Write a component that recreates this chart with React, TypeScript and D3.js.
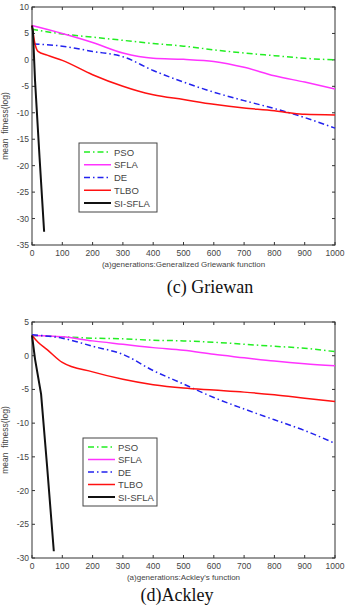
import React, { useRef, useEffect } from 'react';
import * as d3 from 'd3';

const gens = [0, 100, 200, 300, 400, 500, 600, 700, 800, 900, 1000];

// (c) Griewank
const griewPSO = [5.8, 4.9, 4.3, 3.7, 3.1, 2.6, 1.9, 1.3, 0.8, 0.3, 0];
const griewSFLA = [6.5, 5.0, 3.3, 1.3, 0.3, 0.1, -0.3, -1.4, -3.0, -4.2, -5.5];
const griewDEgens = [5, 100, 200, 300, 400, 500, 600, 700, 800, 900, 1000];
const griewDE = [3.0, 2.6, 1.6, 0.6, -2.0, -4.2, -6.1, -7.7, -9.2, -10.9, -12.9];
const griewTLBOgens = [0, 10, 20, 50, 100, 200, 300, 350, 400, 500, 600, 700, 800, 850, 900, 1000];
const griewTLBO = [6.5, 3.0, 1.6, 0.9, -0.1, -2.8, -5.0, -5.9, -6.6, -7.5, -8.4, -9.1, -9.6, -10.0, -10.3, -10.4];
const griewSIgens = [0, 3, 10, 25, 40];
const griewSI = [6.5, 5.5, -3.9, -18.5, -32.5];

// (d) Ackley
const ackPSO = [3.0, 2.8, 2.6, 2.5, 2.3, 2.2, 2.0, 1.7, 1.4, 1.1, 0.6];
const ackSFLA = [3.0, 2.8, 2.2, 1.7, 1.2, 0.8, 0.2, -0.3, -0.8, -1.2, -1.5];
const ackDE = [3.1, 2.6, 1.4, 0.2, -2.2, -4.2, -6.2, -7.9, -9.5, -11.1, -13.0];
const ackTLBOgens = [0, 20, 50, 100, 200, 300, 400, 500, 600, 700, 800, 900, 1000];
const ackTLBO = [3.0, 2.0, 0.9, -1.0, -2.4, -3.5, -4.3, -4.8, -5.1, -5.4, -5.8, -6.3, -6.8];
const ackSIgens = [0, 10, 30, 50, 72];
const ackSI = [3.0, -0.5, -5.7, -16.5, -29.0];

const seriesNames = ['PSO', 'SFLA', 'DE', 'TLBO', 'SI-SFLA'];
const seriesColors = ['#22ee22', '#ff33ff', '#2222ee', '#ff1111', '#111111'];
const seriesDash = ['6,3,1.5,3', null, '6,3,1.5,3', null, null];
const seriesWidth = [1.5, 1.5, 1.5, 1.5, 2];

const griewTicks = [10, 5, 0, -5, -10, -15, -20, -25, -30, -35];
const ackTicks = [5, 0, -5, -10, -15, -20, -25, -30];
const xTicks = [0, 100, 200, 300, 400, 500, 600, 700, 800, 900, 1000];

type Panel = {
  top: number; bottom: number; yDomain: [number, number]; yTicks: number[];
  series: { x: number[]; y: number[] }[];
  xLabel: string; caption: string; captionX: number; captionY: number;
  legend: { x: number; y: number; w: number; h: number };
};

const panels: Panel[] = [
  {
    top: 7, bottom: 245, yDomain: [-35, 10], yTicks: griewTicks,
    series: [
      { x: gens, y: griewPSO }, { x: gens, y: griewSFLA }, { x: griewDEgens, y: griewDE },
      { x: griewTLBOgens, y: griewTLBO }, { x: griewSIgens, y: griewSI },
    ],
    xLabel: '(a)generations:Generalized Griewank function',
    caption: '(c) Griewan', captionX: 210, captionY: 293,
    legend: { x: 79, y: 143, w: 78, h: 69 },
  },
  {
    top: 322, bottom: 558, yDomain: [-30, 5], yTicks: ackTicks,
    series: [
      { x: gens, y: ackPSO }, { x: gens, y: ackSFLA }, { x: gens, y: ackDE },
      { x: ackTLBOgens, y: ackTLBO }, { x: ackSIgens, y: ackSI },
    ],
    xLabel: "(a)generations:Ackley's function",
    caption: '(d)Ackley', captionX: 177, captionY: 601,
    legend: { x: 83, y: 438, w: 74, h: 68 },
  },
];

const App = () => {
  const svgRef = useRef<SVGSVGElement>(null);

  useEffect(() => {
    const svg = d3.select(svgRef.current);
    svg.selectAll('*').remove();
    const left = 32, right = 335;
    const font = 'Liberation Sans, Arial, sans-serif';

    panels.forEach(p => {
      const x = d3.scaleLinear().domain([0, 1000]).range([left, right]);
      const y = d3.scaleLinear().domain(p.yDomain).range([p.bottom, p.top]);
      const g = svg.append('g');

      g.append('rect')
        .attr('x', left).attr('y', p.top)
        .attr('width', right - left).attr('height', p.bottom - p.top)
        .attr('fill', 'white').attr('stroke', '#333').attr('stroke-width', 1);

      // inward ticks, MATLAB style
      xTicks.forEach(t => {
        g.append('line').attr('x1', x(t)).attr('x2', x(t)).attr('y1', p.bottom).attr('y2', p.bottom - 3).attr('stroke', '#333');
        g.append('line').attr('x1', x(t)).attr('x2', x(t)).attr('y1', p.top).attr('y2', p.top + 3).attr('stroke', '#333');
        g.append('text').attr('x', x(t)).attr('y', p.bottom + 11)
          .attr('text-anchor', 'middle').attr('font-size', 8.5).attr('font-family', font)
          .attr('fill', '#444').text(t);
      });
      p.yTicks.forEach(t => {
        g.append('line').attr('x1', left).attr('x2', left + 3).attr('y1', y(t)).attr('y2', y(t)).attr('stroke', '#333');
        g.append('line').attr('x1', right).attr('x2', right - 3).attr('y1', y(t)).attr('y2', y(t)).attr('stroke', '#333');
        g.append('text').attr('x', left - 3).attr('y', y(t) + 3)
          .attr('text-anchor', 'end').attr('font-size', 8.5).attr('font-family', font)
          .attr('fill', '#444').text(t);
      });

      const smooth = d3.line<[number, number]>().x(d => x(d[0])).y(d => y(d[1])).curve(d3.curveMonotoneX);
      const straight = d3.line<[number, number]>().x(d => x(d[0])).y(d => y(d[1]));
      p.series.forEach((s, i) => {
        const pts = s.x.map((v, j) => [v, s.y[j]] as [number, number]);
        g.append('path')
          .attr('d', i === 4 ? straight(pts) : smooth(pts))
          .attr('fill', 'none').attr('stroke', seriesColors[i])
          .attr('stroke-width', seriesWidth[i])
          .attr('stroke-dasharray', seriesDash[i]);
      });

      // legend
      const L = p.legend;
      g.append('rect').attr('x', L.x).attr('y', L.y).attr('width', L.w).attr('height', L.h)
        .attr('fill', 'white').attr('stroke', '#444').attr('stroke-width', 1);
      const step = (L.h - 18) / 4;
      seriesNames.forEach((name, i) => {
        const yy = L.y + 9 + i * step;
        g.append('line').attr('x1', L.x + 5).attr('x2', L.x + 32).attr('y1', yy).attr('y2', yy)
          .attr('stroke', seriesColors[i]).attr('stroke-width', seriesWidth[i])
          .attr('stroke-dasharray', seriesDash[i]);
        g.append('text').attr('x', L.x + 35).attr('y', yy + 3.5)
          .attr('font-size', 9.5).attr('font-family', font).attr('fill', '#444').text(name);
      });

      g.append('text').attr('x', (left + right) / 2).attr('y', p.bottom + 22)
        .attr('text-anchor', 'middle').attr('font-size', 8).attr('font-family', font)
        .attr('fill', '#444').text(p.xLabel);

      g.append('text')
        .attr('transform', `translate(8,${(p.top + p.bottom) / 2}) rotate(-90)`)
        .attr('text-anchor', 'middle').attr('font-size', 8.5).attr('font-family', font)
        .attr('fill', '#444').attr('xml:space', 'preserve').text('mean  fitness(log)');

      g.append('text').attr('x', p.captionX).attr('y', p.captionY)
        .attr('text-anchor', 'middle').attr('font-size', 18)
        .attr('font-family', 'Liberation Serif, Times New Roman, serif')
        .attr('fill', '#111').text(p.caption);
    });
  }, []);

  return (
    <svg ref={svgRef} width={347} height={605}
      style={{ position: 'absolute', left: 0, top: 0, background: 'white' }} />
  );
};

export default App;
